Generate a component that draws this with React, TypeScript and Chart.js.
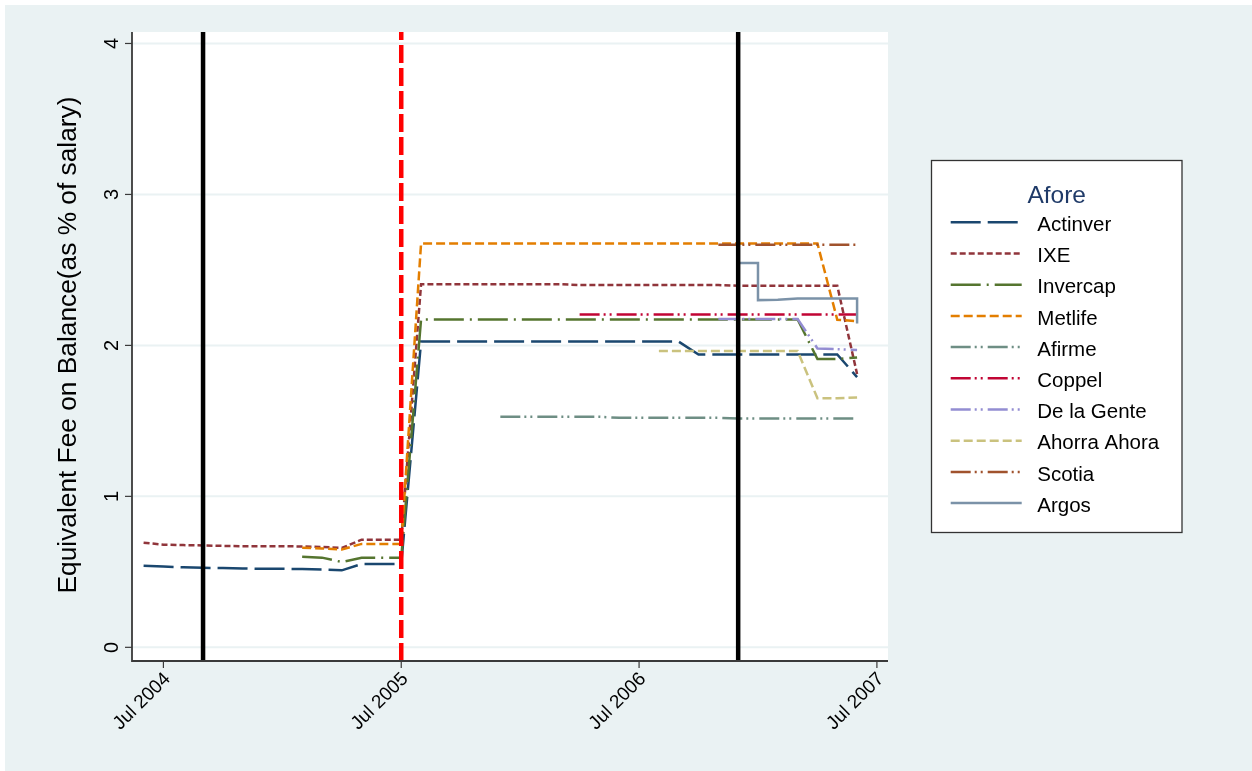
import React, { useEffect, useRef } from 'react';
import { Chart, registerables } from 'chart.js';
Chart.register(...registerables);

// months since Jul 2004 (0 = Jul 2004)
const months = [-1, 0, 1, 2, 3, 4, 5, 6, 7, 8, 9, 10, 11, 12, 13, 14, 15, 16, 17, 18, 19, 20, 21, 22, 23, 24, 25, 26, 27, 28, 29, 30, 31, 32, 33, 34, 35];

const actinver = [0.54, 0.535, 0.53, 0.527, 0.525, 0.522, 0.52, 0.52, 0.518, 0.515, 0.51, 0.552, 0.552, 0.552,
  2.025, 2.025, 2.025, 2.025, 2.025, 2.025, 2.025, 2.025, 2.025, 2.025, 2.025, 2.025, 2.025, 2.025,
  1.94, 1.94, 1.94, 1.94, 1.94, 1.94, 1.94, 1.94, 1.79];
const ixe = [0.693, 0.68, 0.677, 0.675, 0.672, 0.67, 0.67, 0.67, 0.668, 0.665, 0.658, 0.713, 0.713, 0.713,
  2.405, 2.405, 2.405, 2.405, 2.405, 2.405, 2.405, 2.405, 2.4, 2.4, 2.4, 2.4, 2.4, 2.4, 2.4, 2.4,
  2.395, 2.395, 2.395, 2.395, 2.395, 2.395, 1.81];
const invercap = [null, null, null, null, null, null, null, null, 0.6, 0.594, 0.565, 0.593, 0.593, 0.593,
  2.172, 2.172, 2.172, 2.172, 2.172, 2.172, 2.172, 2.172, 2.172, 2.172, 2.172, 2.172, 2.172, 2.172, 2.172, 2.172, 2.172, 2.172, 2.172, 2.172,
  1.91, 1.91, 1.92];
const metlife = [null, null, null, null, null, null, null, null, 0.66, 0.655, 0.648, 0.685, 0.685, 0.685,
  2.675, 2.675, 2.675, 2.675, 2.675, 2.675, 2.675, 2.675, 2.675, 2.675, 2.675, 2.675, 2.675, 2.675, 2.675, 2.675, 2.675, 2.675, 2.675, 2.675, 2.675,
  2.17, 2.16];
const afirme = [null, null, null, null, null, null, null, null, null, null, null, null, null, null, null, null, null, null,
  1.527, 1.527, 1.527, 1.527, 1.527, 1.527, 1.52, 1.52, 1.52, 1.52, 1.52, 1.52, 1.515, 1.515, 1.515, 1.515, 1.515, 1.515, 1.515];
const coppel = [null, null, null, null, null, null, null, null, null, null, null, null, null, null, null, null, null, null, null, null, null, null,
  2.205, 2.205, 2.205, 2.205, 2.205, 2.205, 2.205, 2.205, 2.205, 2.205, 2.205, 2.205, 2.205, 2.205, 2.205];
const delaGente = [null, null, null, null, null, null, null, null, null, null, null, null, null, null, null, null, null, null, null, null, null, null, null, null, null, null, null, null, null,
  2.175, 2.175, 2.175, 2.175, 2.175, 1.98, 1.975, 1.97];
const ahorraAhora = [null, null, null, null, null, null, null, null, null, null, null, null, null, null, null, null, null, null, null, null, null, null, null, null, null, null,
  1.963, 1.963, 1.963, 1.963, 1.963, 1.963, 1.963, 1.963, 1.65, 1.65, 1.655];
const scotia = [null, null, null, null, null, null, null, null, null, null, null, null, null, null, null, null, null, null, null, null, null, null, null, null, null, null, null, null, null,
  2.667, 2.667, 2.667, 2.667, 2.667, 2.667, 2.667, 2.667];
const argosMonths = [29, 30, 30, 31, 32, 33, 34, 35, 35];
const argosValues = [2.545, 2.545, 2.3, 2.303, 2.31, 2.31, 2.31, 2.31, 2.145];

const seriesNames = ['Actinver', 'IXE', 'Invercap', 'Metlife', 'Afirme', 'Coppel', 'De la Gente', 'Ahorra Ahora', 'Scotia', 'Argos'];
const seriesColors = ['#1a476f', '#90353b', '#55752f', '#e37e00', '#6e8e84', '#c10534', '#938dd2', '#cac27e', '#a0522d', '#7b92a8'];
const seriesDashes = [[30, 7], [6, 3], [30, 6, 2, 6], [9, 4], [20, 4, 2, 4, 2, 5], [20, 4, 2, 4, 2, 5], [20, 4, 2, 4, 2, 5], [9, 4], [20, 4, 2, 4, 2, 5], []];

const blackLineMonths = [2, 29];
const redLineMonths = [12];

const xTickValues = [0, 12, 24, 36];
const xTickLabels = ['Jul 2004', 'Jul 2005', 'Jul 2006', 'Jul 2007'];
const yTickValues = [0, 1, 2, 3, 4];
const yTickLabels = ['0', '1', '2', '3', '4'];

const xMin = -1.585;
const xMax = 36.56;
const yMin = -0.0906;
const yMax = 4.076;

const yTitle = 'Equivalent Fee on Balance(as % of salary)';
const legendTitle = 'Afore';

const BG = '#eaf2f3';
const FONT = '"Liberation Sans", Arial, Helvetica, sans-serif';

function toPoints(arr: (number | null)[]) {
  const pts: { x: number; y: number }[] = [];
  arr.forEach((v, i) => {
    if (v !== null) pts.push({ x: months[i], y: v });
  });
  return pts;
}

const decorPlugin = {
  id: 'stataDecor',
  beforeDraw(chart: any) {
    const { ctx, width, height, chartArea: a } = chart;
    const ys = chart.scales.y;
    ctx.save();
    ctx.fillStyle = '#ffffff';
    ctx.fillRect(0, 0, width, height);
    ctx.fillStyle = BG;
    ctx.fillRect(5, 5, width - 5, height - 5);
    ctx.fillStyle = '#ffffff';
    ctx.fillRect(a.left, a.top, a.right - a.left, a.bottom - a.top);
    ctx.strokeStyle = BG;
    ctx.lineWidth = 2;
    yTickValues.forEach((v) => {
      const py = ys.getPixelForValue(v);
      ctx.beginPath();
      ctx.moveTo(a.left, py);
      ctx.lineTo(a.right, py);
      ctx.stroke();
    });
    ctx.restore();
  },
  afterDraw(chart: any) {
    const { ctx, chartArea: a } = chart;
    const xs = chart.scales.x;
    const ys = chart.scales.y;
    ctx.save();
    // axes
    ctx.strokeStyle = '#3a3a3a';
    ctx.lineWidth = 1.8;
    ctx.beginPath();
    ctx.moveTo(a.left, a.top);
    ctx.lineTo(a.left, a.bottom);
    ctx.lineTo(a.right, a.bottom);
    ctx.stroke();
    // y ticks
    ctx.lineWidth = 1.2;
    ctx.fillStyle = '#000';
    ctx.font = `20px ${FONT}`;
    yTickValues.forEach((v, i) => {
      const py = ys.getPixelForValue(v);
      ctx.beginPath();
      ctx.moveTo(a.left - 7, py);
      ctx.lineTo(a.left, py);
      ctx.stroke();
      ctx.save();
      ctx.translate(a.left - 14.5, py);
      ctx.rotate(-Math.PI / 2);
      ctx.textAlign = 'center';
      ctx.textBaseline = 'alphabetic';
      ctx.fillText(yTickLabels[i], 0, 0);
      ctx.restore();
    });
    // x ticks
    ctx.font = `19px ${FONT}`;
    xTickValues.forEach((v, i) => {
      const px = xs.getPixelForValue(v);
      ctx.beginPath();
      ctx.moveTo(px, a.bottom);
      ctx.lineTo(px, a.bottom + 7);
      ctx.stroke();
      ctx.save();
      ctx.translate(px + 4, a.bottom + 15);
      ctx.rotate(-Math.PI / 4);
      ctx.textAlign = 'right';
      ctx.textBaseline = 'middle';
      ctx.fillText(xTickLabels[i], 0, 0);
      ctx.restore();
    });
    // y title
    ctx.save();
    ctx.font = `26.3px ${FONT}`;
    ctx.translate(76, 345);
    ctx.rotate(-Math.PI / 2);
    ctx.textAlign = 'center';
    ctx.textBaseline = 'alphabetic';
    ctx.fillText(yTitle, 0, 0);
    ctx.restore();
    // legend
    const lx = 931.5, ly = 160.5, lw = 250.5, lh = 372;
    ctx.fillStyle = '#ffffff';
    ctx.fillRect(lx, ly, lw, lh);
    ctx.strokeStyle = '#333';
    ctx.lineWidth = 1.3;
    ctx.strokeRect(lx, ly, lw, lh);
    ctx.fillStyle = '#1f3a68';
    ctx.font = `24.5px ${FONT}`;
    ctx.textAlign = 'center';
    ctx.textBaseline = 'alphabetic';
    ctx.fillText(legendTitle, 1056.7, 203);
    ctx.font = `20.5px ${FONT}`;
    ctx.textAlign = 'left';
    seriesNames.forEach((name, i) => {
      const ry = 222.3 + i * 31.2;
      ctx.save();
      ctx.strokeStyle = seriesColors[i];
      ctx.lineWidth = 2.5;
      ctx.setLineDash(seriesDashes[i]);
      ctx.beginPath();
      ctx.moveTo(950.7, ry);
      ctx.lineTo(1021.7, ry);
      ctx.stroke();
      ctx.restore();
      ctx.fillStyle = '#000';
      ctx.fillText(name, 1037.3, ry + 8.7);
    });
    ctx.restore();
  },
};

export default function App() {
  const canvasRef = useRef<HTMLCanvasElement | null>(null);
  useEffect(() => {
    if (!canvasRef.current) return;
    const seriesData = [
      toPoints(actinver),
      toPoints(ixe),
      toPoints(invercap),
      toPoints(metlife),
      toPoints(afirme),
      toPoints(coppel),
      toPoints(delaGente),
      toPoints(ahorraAhora),
      toPoints(scotia),
      argosMonths.map((m, i) => ({ x: m, y: argosValues[i] })),
    ];
    const datasets: any[] = [];
    blackLineMonths.forEach((m) => {
      datasets.push({
        label: 'vline',
        data: [{ x: m, y: yMin }, { x: m, y: yMax }],
        borderColor: '#000',
        borderWidth: 4.5,
        pointRadius: 0,
        order: 0,
      });
    });
    redLineMonths.forEach((m) => {
      datasets.push({
        label: 'policy',
        data: [{ x: m, y: yMin }, { x: m, y: yMax }],
        borderColor: '#ff0000',
        borderWidth: 4.5,
        borderDash: [18, 5],
        pointRadius: 0,
        order: 0,
      });
    });
    seriesNames.forEach((name, i) => {
      datasets.push({
        label: name,
        data: seriesData[i],
        borderColor: seriesColors[i],
        borderWidth: 2.5,
        borderDash: seriesDashes[i],
        pointRadius: 0,
        tension: 0,
        fill: false,
        order: 20 - i,
      });
    });
    const chart = new Chart(canvasRef.current, {
      type: 'line',
      data: { datasets },
      options: {
        animation: false,
        responsive: false,
        devicePixelRatio: 1,
        layout: { padding: { left: 132, right: 1252 - 888, top: 32, bottom: 771 - 661 } },
        scales: {
          x: { type: 'linear', min: xMin, max: xMax, display: false },
          y: { type: 'linear', min: yMin, max: yMax, display: false },
        },
        plugins: { legend: { display: false }, tooltip: { enabled: false }, title: { display: false } },
      },
      plugins: [decorPlugin],
    });
    return () => chart.destroy();
  }, []);
  return (
    <div style={{ position: 'absolute', left: 0, top: 0, width: 1252, height: 771 }}>
      <canvas ref={canvasRef} width={1252} height={771} style={{ display: 'block' }} />
    </div>
  );
}
